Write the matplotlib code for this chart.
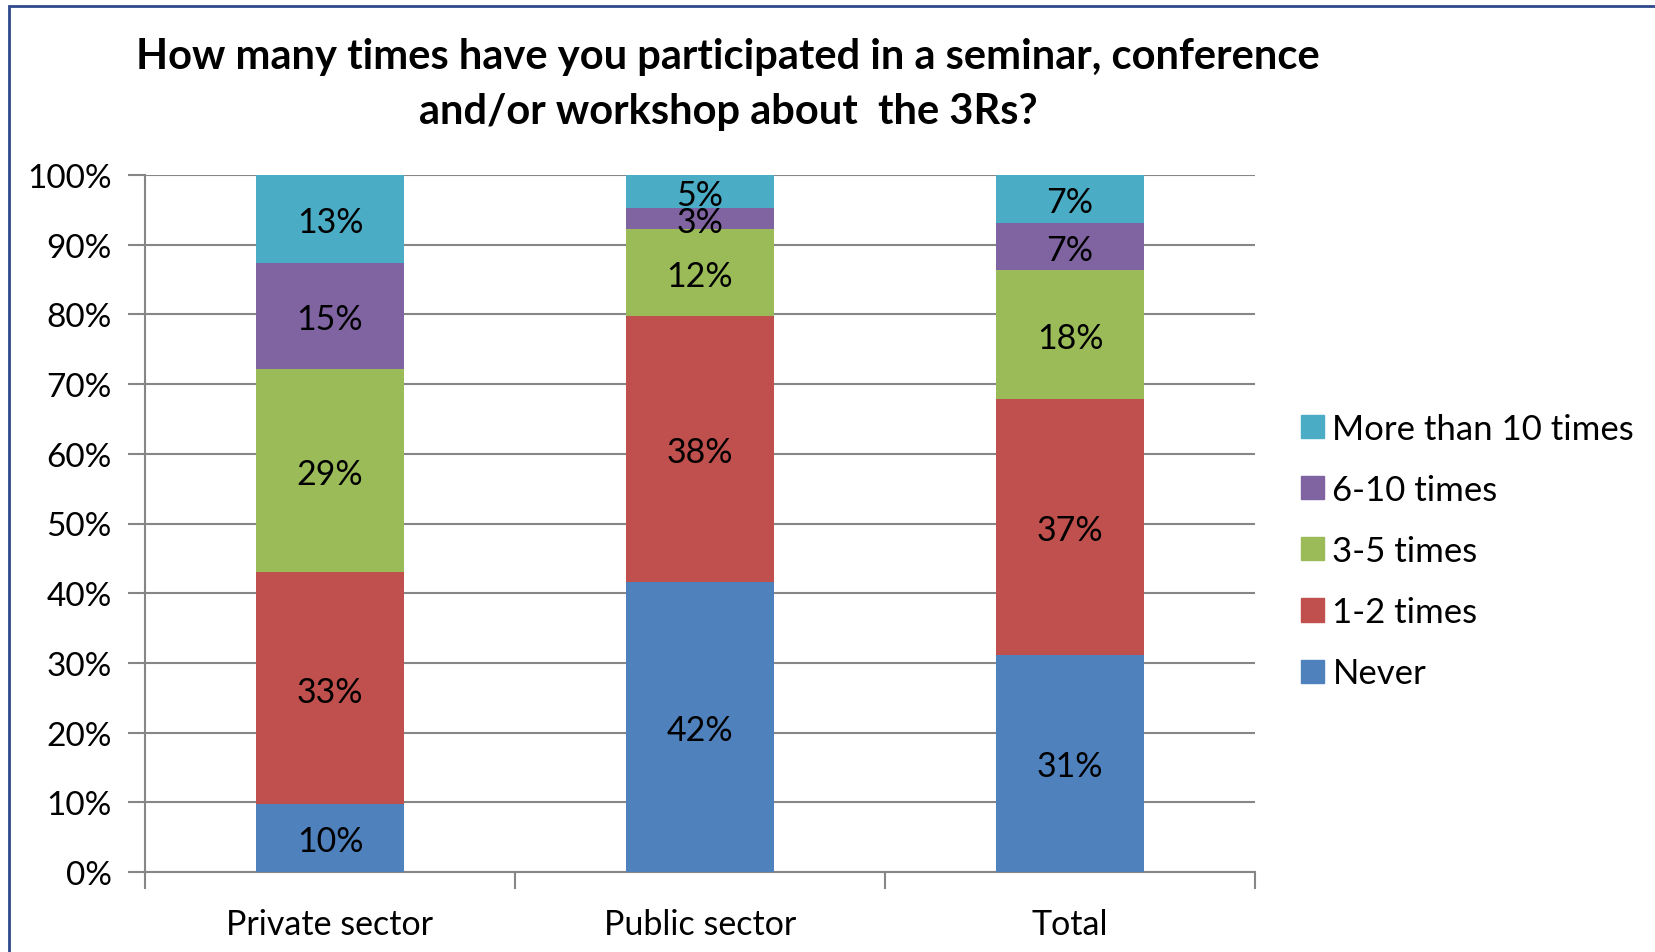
import matplotlib
matplotlib.use('Agg')
import matplotlib.pyplot as plt
from matplotlib.patches import Rectangle, Patch
import numpy as np

plt.rcParams['font.family'] = ['Lato', 'DejaVu Sans']

# --- data (percent of respondents) ---
groups = ['Private sector', 'Public sector', 'Total']
series = ['Never', '1-2 times', '3-5 times', '6-10 times', 'More than 10 times']
never = [9.7, 41.6, 31.2]
times_1_2 = [33.3, 38.2, 36.7]
times_3_5 = [29.1, 12.4, 18.4]
times_6_10 = [15.3, 3.0, 6.8]
more_than_10 = [12.6, 4.8, 6.9]
colors = ['#4F81BD', '#C0504D', '#9BBB59', '#8064A2', '#4BACC6']
yticks = [0, 10, 20, 30, 40, 50, 60, 70, 80, 90, 100]

values = [never, times_1_2, times_3_5, times_6_10, more_than_10]

fig = plt.figure(figsize=(16.55, 9.53), dpi=100)
ax = fig.add_axes([145 / 1655, 1 - 873 / 953, 1110 / 1655, 697 / 953])

x = np.arange(len(groups))
bottom = np.zeros(len(groups))
for name, vals, col in zip(series, values, colors):
    vals = np.array(vals)
    ax.bar(x, vals, 0.4, bottom=bottom, color=col, label=name, zorder=3)
    for xi, b, v in zip(x, bottom, vals):
        # labels sit a touch low in the original, like Excel does
        ax.annotate(f"{v:.0f}%", (xi, b + v / 2), xytext=(0, -2.3),
                    textcoords='offset points', ha='center', va='center',
                    fontsize=24.5, zorder=4)
    bottom += vals

ax.set_xlim(-0.5, len(groups) - 0.5)
ax.set_ylim(0, 100)
ax.set_yticks(yticks)
ax.set_yticklabels([f"{t}%" for t in yticks], fontsize=24)
ax.yaxis.grid(True, color='#868686', linewidth=1.5, zorder=0)
ax.tick_params(axis='y', length=12, width=1.5, color='#868686', pad=12)

# category ticks sit on the boundaries, labels in the middle
ax.set_xticks(np.arange(len(groups) + 1) - 0.5)
ax.set_xticklabels([])
ax.set_xticks(x, minor=True)
ax.set_xticklabels(groups, minor=True, fontsize=24.5)
ax.tick_params(axis='x', which='major', length=12, width=1.5, color='#868686')
ax.tick_params(axis='x', which='minor', length=0, pad=26)

for side in ['top', 'right']:
    ax.spines[side].set_visible(False)
for side in ['left', 'bottom']:
    ax.spines[side].set_color('#868686')
    ax.spines[side].set_linewidth(1.5)

fig.text(0.44, 1 - 57 / 953,
         "How many times have you participated in a seminar, conference",
         ha='center', va='center', fontsize=30, fontweight='bold')
fig.text(0.44, 1 - 112 / 953, "and/or workshop about  the 3Rs?",
         ha='center', va='center', fontsize=30, fontweight='bold')

handles = [Patch(color=c, label=s) for s, c in zip(series, colors)][::-1]
fig.legend(handles=handles, loc='center left',
           bbox_to_anchor=(1270 / 1655, 1 - 552 / 953), frameon=False,
           fontsize=25, handlelength=0.65, handleheight=0.65,
           labelspacing=0.84, handletextpad=0.25)

# outer chart border (only left and top edges show in the crop)
fig.patches.append(Rectangle((9 / 1655, -0.05), 1.2, 1 - 7 / 953 + 0.05,
                             transform=fig.transFigure, fill=False,
                             edgecolor='#2E4A8C', linewidth=2))

plt.savefig('out.png', dpi=100)
